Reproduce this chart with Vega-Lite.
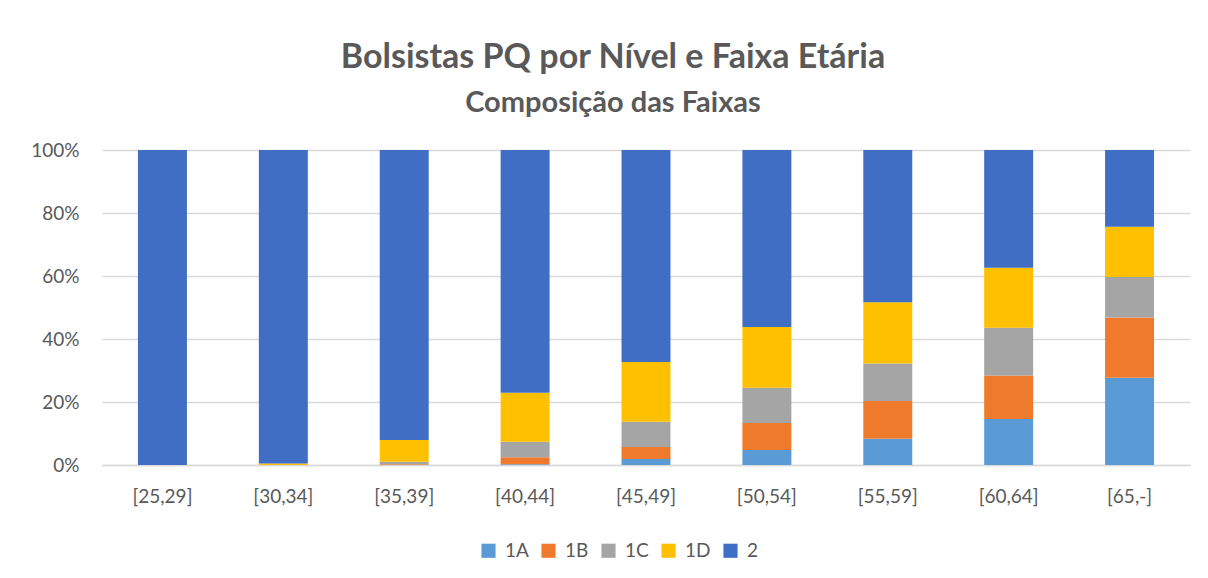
{
  "$schema": "https://vega.github.io/schema/vega-lite/v6.json",
  "autosize": "none",
  "width": 1088,
  "height": 315,
  "padding": {"left": 102, "top": 150, "right": 18, "bottom": 113},
  "background": "#FFFFFF",
  "title": {
    "text": "Bolsistas PQ por Nível e Faixa Etária",
    "subtitle": "Composição das Faixas",
    "anchor": "middle",
    "frame": "group",
    "dx": -33,
    "offset": 23,
    "font": "Lato",
    "fontSize": 34,
    "fontWeight": "bold",
    "color": "#595959",
    "subtitleFont": "Lato",
    "subtitleFontSize": 29,
    "subtitleFontWeight": "bold",
    "subtitleColor": "#595959",
    "subtitlePadding": 14
  },
  "config": {
    "view": {"stroke": null},
    "axis": {"labelFont": "Lato", "labelFontSize": 19, "labelColor": "#595959"},
    "legend": {"labelFont": "Lato", "labelFontSize": 19, "labelColor": "#595959"}
  },
  "data": {
    "values": [
      {"faixa": "[25,29]", "nivel": "1A", "ord": 1, "pct": 0},
      {"faixa": "[25,29]", "nivel": "1B", "ord": 2, "pct": 0},
      {"faixa": "[25,29]", "nivel": "1C", "ord": 3, "pct": 0},
      {"faixa": "[25,29]", "nivel": "1D", "ord": 4, "pct": 0},
      {"faixa": "[25,29]", "nivel": "2", "ord": 5, "pct": 100},
      {"faixa": "[30,34]", "nivel": "1A", "ord": 1, "pct": 0},
      {"faixa": "[30,34]", "nivel": "1B", "ord": 2, "pct": 0},
      {"faixa": "[30,34]", "nivel": "1C", "ord": 3, "pct": 0},
      {"faixa": "[30,34]", "nivel": "1D", "ord": 4, "pct": 0.5},
      {"faixa": "[30,34]", "nivel": "2", "ord": 5, "pct": 99.5},
      {"faixa": "[35,39]", "nivel": "1A", "ord": 1, "pct": 0},
      {"faixa": "[35,39]", "nivel": "1B", "ord": 2, "pct": 0.2},
      {"faixa": "[35,39]", "nivel": "1C", "ord": 3, "pct": 0.8},
      {"faixa": "[35,39]", "nivel": "1D", "ord": 4, "pct": 6.9},
      {"faixa": "[35,39]", "nivel": "2", "ord": 5, "pct": 92.1},
      {"faixa": "[40,44]", "nivel": "1A", "ord": 1, "pct": 0.2},
      {"faixa": "[40,44]", "nivel": "1B", "ord": 2, "pct": 2.3},
      {"faixa": "[40,44]", "nivel": "1C", "ord": 3, "pct": 4.9},
      {"faixa": "[40,44]", "nivel": "1D", "ord": 4, "pct": 15.5},
      {"faixa": "[40,44]", "nivel": "2", "ord": 5, "pct": 77.1},
      {"faixa": "[45,49]", "nivel": "1A", "ord": 1, "pct": 1.9},
      {"faixa": "[45,49]", "nivel": "1B", "ord": 2, "pct": 3.8},
      {"faixa": "[45,49]", "nivel": "1C", "ord": 3, "pct": 8.0},
      {"faixa": "[45,49]", "nivel": "1D", "ord": 4, "pct": 19.0},
      {"faixa": "[45,49]", "nivel": "2", "ord": 5, "pct": 67.3},
      {"faixa": "[50,54]", "nivel": "1A", "ord": 1, "pct": 4.8},
      {"faixa": "[50,54]", "nivel": "1B", "ord": 2, "pct": 8.5},
      {"faixa": "[50,54]", "nivel": "1C", "ord": 3, "pct": 11.2},
      {"faixa": "[50,54]", "nivel": "1D", "ord": 4, "pct": 19.3},
      {"faixa": "[50,54]", "nivel": "2", "ord": 5, "pct": 56.2},
      {"faixa": "[55,59]", "nivel": "1A", "ord": 1, "pct": 8.3},
      {"faixa": "[55,59]", "nivel": "1B", "ord": 2, "pct": 12.0},
      {"faixa": "[55,59]", "nivel": "1C", "ord": 3, "pct": 11.9},
      {"faixa": "[55,59]", "nivel": "1D", "ord": 4, "pct": 19.5},
      {"faixa": "[55,59]", "nivel": "2", "ord": 5, "pct": 48.3},
      {"faixa": "[60,64]", "nivel": "1A", "ord": 1, "pct": 14.6},
      {"faixa": "[60,64]", "nivel": "1B", "ord": 2, "pct": 13.8},
      {"faixa": "[60,64]", "nivel": "1C", "ord": 3, "pct": 15.2},
      {"faixa": "[60,64]", "nivel": "1D", "ord": 4, "pct": 19.0},
      {"faixa": "[60,64]", "nivel": "2", "ord": 5, "pct": 37.4},
      {"faixa": "[65,-]", "nivel": "1A", "ord": 1, "pct": 27.7},
      {"faixa": "[65,-]", "nivel": "1B", "ord": 2, "pct": 19.1},
      {"faixa": "[65,-]", "nivel": "1C", "ord": 3, "pct": 12.9},
      {"faixa": "[65,-]", "nivel": "1D", "ord": 4, "pct": 15.9},
      {"faixa": "[65,-]", "nivel": "2", "ord": 5, "pct": 24.4}
    ]
  },
  "mark": {"type": "bar"},
  "encoding": {
    "x": {
      "field": "faixa",
      "type": "nominal",
      "sort": null,
      "scale": {"paddingInner": 0.595, "paddingOuter": 0.2975},
      "axis": {
        "title": null,
        "labelAngle": 0,
        "labelPadding": 22,
        "ticks": false,
        "domain": true,
        "domainColor": "#D9D9D9",
        "domainWidth": 1.5
      }
    },
    "y": {
      "field": "pct",
      "type": "quantitative",
      "stack": "normalize",
      "scale": {"domain": [0, 1]},
      "axis": {
        "title": null,
        "format": ".0%",
        "values": [0, 0.2, 0.4, 0.6, 0.8, 1],
        "labelOverlap": false,
        "labelFlush": false,
        "ticks": false,
        "domain": false,
        "labelPadding": 23,
        "gridColor": "#D9D9D9",
        "gridWidth": 1.5
      }
    },
    "color": {
      "field": "nivel",
      "type": "nominal",
      "scale": {
        "domain": ["1A", "1B", "1C", "1D", "2"],
        "range": ["#5B9BD5", "#EF7A2C", "#A5A5A5", "#FFC000", "#3F6EC4"]
      },
      "legend": {
        "title": null,
        "orient": "none",
        "direction": "horizontal",
        "legendX": 377,
        "legendY": 391,
        "symbolType": "square",
        "symbolSize": 200,
        "symbolStrokeWidth": 0,
        "labelOffset": 7,
        "columnPadding": 10
      }
    },
    "order": {"field": "ord", "type": "quantitative"}
  }
}
